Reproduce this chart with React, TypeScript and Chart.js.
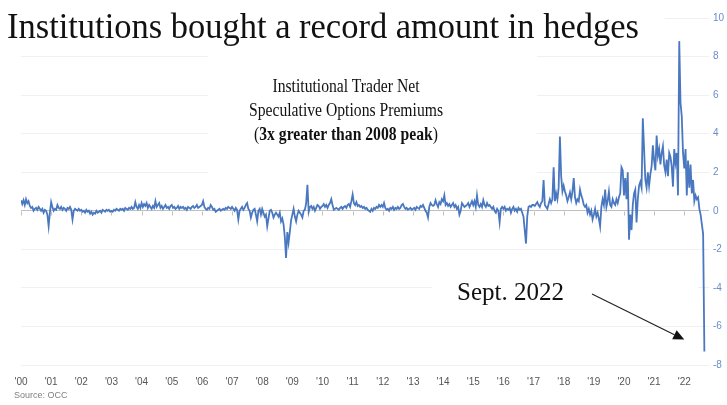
import React, { useEffect, useRef } from 'react';
import { Chart, registerables } from 'chart.js';

Chart.register(...registerables);

// Net speculative options premiums, semi-monthly readings (24 per year)
const v2000 = [0.55, 0.35, 0.55, 0.3, 0.6, 0.4, 0.5, 0.25, 0.15, 0.2, 0.0, 0.1, 0.15, 0.05, 0.2, 0.1, 0.0, 0.1, -0.1, 0.05, 0.0, -0.2, -0.8, -0.1];
const v2001 = [0.45, 0.2, 0.0, 0.1, 0.05, 0.3, 0.15, 0.1, 0.2, 0.05, 0.15, 0.1, 0.0, 0.15, 0.1, 0.2, 0.05, -0.45, 0.0, 0.1, 0.05, 0.0, 0.1, 0.0];
const v2002 = [0.05, -0.05, 0.0, -0.1, 0.05, -0.05, 0.0, -0.15, -0.05, -0.2, -0.1, -0.15, 0.0, -0.1, -0.05, 0.0, -0.1, 0.05, 0.0, -0.05, 0.05, 0.0, 0.05, -0.05];
const v2003 = [0.0, -0.05, 0.05, 0.0, 0.1, 0.05, 0.0, 0.1, 0.05, 0.1, 0.0, 0.15, 0.1, 0.05, 0.15, 0.1, 0.2, 0.1, 0.15, 0.45, 0.2, 0.1, 0.3, 0.15];
const v2004 = [0.4, 0.2, 0.35, 0.25, 0.4, 0.15, 0.3, 0.2, 0.1, 0.25, 0.15, 0.5, 0.2, 0.3, 0.4, 0.15, 0.25, 0.1, 0.2, 0.3, 0.15, 0.2, 0.1, 0.25];
const v2005 = [0.3, 0.15, 0.2, 0.1, 0.15, 0.25, 0.1, 0.2, 0.15, 0.2, 0.1, 0.15, 0.05, 0.2, 0.15, 0.1, 0.2, 0.25, 0.15, 0.2, 0.3, 0.15, 0.2, 0.25];
const v2006 = [0.3, 0.5, 0.2, 0.1, 0.05, 0.15, 0.1, 0.3, 0.2, 0.05, 0.1, -0.05, 0.0, 0.05, 0.1, 0.0, 0.05, 0.1, 0.05, 0.15, 0.1, 0.2, 0.15, 0.1];
const v2007 = [0.2, 0.1, 0.0, 0.15, 0.05, -0.45, 0.0, 0.1, 0.2, 0.05, 0.15, 0.3, 0.4, 0.1, 0.0, -0.35, -0.1, 0.05, 0.1, -0.2, -0.55, 0.0, 0.1, -0.2];
const v2008 = [0.1, -0.1, -0.3, -0.2, -0.8, -0.4, 0.0, 0.05, -0.1, -0.35, -0.2, -0.1, -0.2, -0.3, -0.1, -0.55, -0.4, -0.7, -1.35, -2.45, -1.1, -1.65, -1.1, -0.5];
const v2009 = [-0.2, 0.1, -0.3, -0.55, -0.2, 0.0, -0.1, -0.2, -0.35, 0.0, 0.05, 0.4, 1.35, -0.05, 0.2, 0.25, 0.1, 0.2, 0.0, 0.15, 0.3, 0.25, 0.1, 0.2];
const v2010 = [0.25, 0.35, 0.2, 0.3, 0.15, 0.3, 0.4, 0.6, 0.3, 0.05, 0.1, 0.15, 0.1, 0.05, 0.15, 0.2, 0.1, 0.2, 0.25, 0.15, 0.3, 0.35, 0.2, 0.5];
const v2011 = [0.85, 0.4, 0.3, 0.45, 0.25, 0.3, 0.2, 0.25, 0.15, 0.2, 0.1, 0.15, 0.05, 0.0, -0.05, 0.1, 0.0, 0.15, 0.1, 0.2, 0.15, 0.3, 0.2, 0.3];
const v2012 = [0.2, 0.4, 0.15, 0.05, 0.1, 0.0, 0.15, 0.1, 0.2, 0.05, 0.15, 0.1, 0.2, 0.1, 0.15, 0.3, 0.35, 0.2, 0.1, 0.15, 0.05, 0.1, 0.15, 0.05];
const v2013 = [0.1, 0.15, 0.05, 0.2, 0.15, 0.1, 0.25, 0.2, 0.3, 0.15, 0.0, -0.1, -0.35, 0.2, 0.4, 0.3, 0.25, 0.3, 0.55, 0.35, 0.2, 0.45, 0.35, 0.6];
const v2014 = [0.5, 0.8, 0.3, 0.4, 0.25, 0.35, 0.2, 0.3, 0.4, 0.2, 0.3, 0.1, 0.2, -0.2, 0.0, 0.4, 0.3, 0.2, 0.25, 0.3, 0.4, 0.2, 0.35, 0.5];
const v2015 = [0.3, 0.5, 0.2, 0.8, 0.3, 0.2, 0.35, 0.2, 0.55, 0.3, 0.2, 0.4, 0.25, 0.3, 0.2, 0.1, 0.2, 0.0, -0.1, 0.1, 0.0, -0.6, 0.1, 0.2];
const v2016 = [0.1, 0.2, 0.0, 0.1, 0.05, 0.15, -0.1, 0.1, 0.2, 0.0, 0.1, -0.05, 0.15, 0.05, 0.1, -0.1, -0.3, -1.0, -1.7, -0.3, 0.2, 0.25, 0.2, 0.3];
const v2017 = [0.3, 0.25, 0.35, 0.45, 0.3, 0.2, 0.4, 0.5, 1.6, 0.3, 0.2, 0.1, 0.35, 0.6, 0.4, 0.6, 2.25, 0.5, 0.9, 0.6, 1.2, 3.85, 1.8, 1.0];
const v2018 = [1.3, 1.0, 0.8, 0.5, 0.7, 0.95, 0.6, 1.0, 1.7, 0.7, 0.4, 0.6, 0.5, 1.1, 0.8, 0.6, 0.3, 0.2, 0.3, -0.1, 0.1, -0.2, 0.0, -0.45];
const v2019 = [-0.2, 0.1, -0.3, -0.1, -0.4, -0.8, 0.2, 0.6, 0.3, 1.1, 0.2, 0.5, 1.0, 0.3, 0.2, 0.6, 0.4, 0.3, 0.6, 0.4, 0.7, 0.9, 2.25, 2.1];
const v2020 = [0.8, 1.7, 0.6, 2.0, -1.5, -0.2, -1.0, 0.3, 0.9, 1.1, -0.6, 0.6, 1.3, 1.5, 1.2, 4.8, 3.2, 1.6, 1.2, 2.0, 1.3, 1.9, 2.3, 3.4];
const v2021 = [2.6, 2.1, 3.9, 2.85, 3.2, 2.4, 3.0, 3.35, 2.35, 2.0, 2.65, 1.8, 3.0, 2.8, 2.3, 1.25, 3.2, 2.5, 3.0, 0.8, 8.8, 5.6, 4.9, 3.0];
const v2022 = [2.2, 3.2, 0.8, 2.6, 1.2, 2.4, 0.9, 1.6, 0.5, 0.8, 0.6, 0.7, 0.1, -0.2, -0.7, -1.2, -7.3];

const yearValues = [v2000, v2001, v2002, v2003, v2004, v2005, v2006, v2007, v2008, v2009, v2010, v2011,
  v2012, v2013, v2014, v2015, v2016, v2017, v2018, v2019, v2020, v2021, v2022];
const startYear = 2000;
const periodsPerYear = 24;

const xTickLabels = ["'00", "'01", "'02", "'03", "'04", "'05", "'06", "'07", "'08", "'09", "'10", "'11",
  "'12", "'13", "'14", "'15", "'16", "'17", "'18", "'19", "'20", "'21", "'22"];
const yMin = -8;
const yMax = 10;
const yStep = 2;

export default function App() {
  const ref = useRef<HTMLCanvasElement>(null);

  useEffect(() => {
    if (!ref.current) return;
    const points: { x: number; y: number }[] = [];
    yearValues.forEach((arr, k) => {
      arr.forEach((v, i) => points.push({ x: startYear + k + i / periodsPerYear, y: v }));
    });

    const masks = {
      id: 'masks',
      beforeDatasetsDraw(chart: any) {
        const c = chart.ctx;
        c.save();
        c.fillStyle = '#ffffff';
        c.fillRect(0, 0, 665, 46);
        c.fillRect(208, 48, 329, 130);
        c.fillRect(432, 262, 266, 38);
        c.restore();
      },
    };

    const zeroTicks = {
      id: 'zeroTicks',
      beforeDatasetsDraw(chart: any) {
        const c = chart.ctx;
        const xs = chart.scales.x;
        const ys = chart.scales.y;
        const y0 = Math.round(ys.getPixelForValue(0)) + 0.5;
        c.save();
        c.strokeStyle = '#bfbfbf';
        c.lineWidth = 1;
        c.beginPath();
        for (let k = 0; k < xTickLabels.length; k++) {
          const px = Math.round(xs.getPixelForValue(startYear + k)) + 0.5;
          c.moveTo(px, y0);
          c.lineTo(px, y0 + 4);
        }
        c.stroke();
        c.restore();
      },
    };

    const arrow = {
      id: 'arrow',
      afterDatasetsDraw(chart: any) {
        const c = chart.ctx;
        const xs = chart.scales.x;
        const ys = chart.scales.y;
        const x1 = xs.getPixelForValue(2018.94);
        const y1 = ys.getPixelForValue(-4.32);
        const x2 = xs.getPixelForValue(2022.0);
        const y2 = ys.getPixelForValue(-6.68);
        const ang = Math.atan2(y2 - y1, x2 - x1);
        const hl = 11;
        const hw = 5;
        const bx = x2 - hl * Math.cos(ang);
        const by = y2 - hl * Math.sin(ang);
        c.save();
        c.strokeStyle = '#222';
        c.fillStyle = '#111';
        c.lineWidth = 1.2;
        c.beginPath();
        c.moveTo(x1, y1);
        c.lineTo(bx, by);
        c.stroke();
        c.beginPath();
        c.moveTo(x2, y2);
        c.lineTo(bx + hw * Math.sin(ang), by - hw * Math.cos(ang));
        c.lineTo(bx - hw * Math.sin(ang), by + hw * Math.cos(ang));
        c.closePath();
        c.fill();
        c.restore();
      },
    };

    const chart = new Chart(ref.current, {
      type: 'line',
      data: {
        datasets: [
          {
            data: points,
            borderColor: '#4a78c0',
            borderWidth: 1.8,
            pointRadius: 0,
            tension: 0,
            fill: false,
          },
        ],
      },
      options: {
        animation: false,
        responsive: false,
        devicePixelRatio: 1,
        parsing: false as any,
        layout: { padding: { left: 21, top: 18, right: 0, bottom: 0 } },
        plugins: { legend: { display: false }, tooltip: { enabled: false }, title: { display: false } },
        scales: {
          x: {
            type: 'linear',
            min: startYear,
            max: 2022.82,
            grid: { display: false, drawTicks: false },
            border: { display: false },
            afterFit: (s: any) => { s.height = 40; },
            afterBuildTicks: (s: any) => {
              s.ticks = xTickLabels.map((_, k) => ({ value: startYear + k }));
            },
            ticks: {
              autoSkip: false,
              maxRotation: 0,
              padding: 11,
              color: '#555555',
              font: { family: 'Liberation Sans', size: 10 },
              callback: (v: any) => xTickLabels[Math.round(Number(v)) - startYear] ?? '',
            },
          },
          y: {
            position: 'right',
            min: yMin,
            max: yMax,
            afterFit: (s: any) => { s.width = 18; },
            grid: {
              drawTicks: false,
              color: (ctx: any) => (ctx.tick && ctx.tick.value === 0 ? '#bfbfbf' : '#f0f0f0'),
              lineWidth: 1,
            },
            border: { display: false },
            ticks: {
              stepSize: yStep,
              padding: 4,
              color: '#6a8ccb',
              font: { family: 'Liberation Sans', size: 10 },
            },
          },
        },
      },
      plugins: [masks, zeroTicks, arrow],
    });
    return () => chart.destroy();
  }, []);

  return (
    <div style={{ position: 'absolute', left: 0, top: 0, width: 727, height: 405, background: '#fff', overflow: 'hidden' }}>
      <canvas ref={ref} width={727} height={405} style={{ position: 'absolute', left: 0, top: 0, width: 727, height: 405 }} />
      <div style={{ position: 'absolute', left: 7, top: 9, fontFamily: '"Liberation Serif", serif', fontSize: 35, lineHeight: '35px', color: '#111', whiteSpace: 'nowrap', transform: 'scaleX(0.985)', transformOrigin: 'left top' }}>
        Institutions bought a record amount in hedges
      </div>
      <div style={{ position: 'absolute', left: 216, width: 260, top: 74, textAlign: 'center', fontFamily: '"Liberation Serif", serif', fontSize: 18, lineHeight: '24px', color: '#111', whiteSpace: 'nowrap', transform: 'scaleX(0.87)', transformOrigin: '130px 0' }}>
        <div>Institutional Trader Net</div>
        <div>Speculative Options Premiums</div>
        <div>(<b>3x greater than 2008 peak</b>)</div>
      </div>
      <div style={{ position: 'absolute', left: 457, top: 278, fontFamily: '"Liberation Serif", serif', fontSize: 25, lineHeight: '28px', color: '#111', whiteSpace: 'nowrap' }}>
        Sept. 2022
      </div>
      <div style={{ position: 'absolute', left: 14, top: 390, fontFamily: '"Liberation Sans", sans-serif', fontSize: 9, lineHeight: '11px', color: '#808080', whiteSpace: 'nowrap' }}>
        Source: OCC
      </div>
    </div>
  );
}
